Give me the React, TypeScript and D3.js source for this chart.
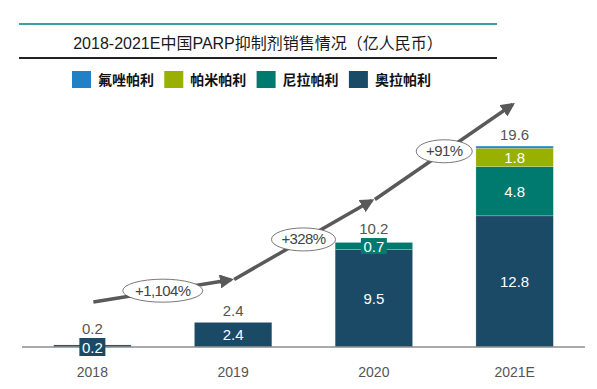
import React from "react";
import * as d3 from "d3";

// data
const categories = ["2018", "2019", "2020", "2021E"];
const olaparib = [0.2, 2.4, 9.5, 12.8]; // 奥拉帕利
const niraparib = [0, 0, 0.7, 4.8]; // 尼拉帕利
const pamiparib = [0, 0, 0, 1.8]; // 帕米帕利
const fluzoparib = [0, 0, 0, 0.2]; // 氟唑帕利
const totals = [0.2, 2.4, 10.2, 19.6];
const growth = ["+1,104%", "+328%", "+91%"];

const seriesNames = ["奥拉帕利", "尼拉帕利", "帕米帕利", "氟唑帕利"];
const seriesValues = [olaparib, niraparib, pamiparib, fluzoparib];
const legendOrder = ["氟唑帕利", "帕米帕利", "尼拉帕利", "奥拉帕利"];
const colors: Record<string, string> = {
  "奥拉帕利": "#1b4a66",
  "尼拉帕利": "#007a6e",
  "帕米帕利": "#99b000",
  "氟唑帕利": "#2180c6",
};

const W = 597;
const H = 389;
const numFont = "'Liberation Sans', Arial, sans-serif";
const cjkFont = "'Liberation Sans', 'Noto Sans CJK SC', sans-serif";

const App = () => {
  const x = d3.scaleBand<string>()
    .domain(categories)
    .range([22, 585])
    .paddingInner(0.45)
    .paddingOuter(0.225);
  const y = d3.scaleLinear().domain([0, 20]).range([347, 142]);
  const cx = (c: string) => (x(c) as number) + x.bandwidth() / 2;

  const rows = categories.map((c, i) => {
    const r: any = { cat: c };
    seriesNames.forEach((s, k) => (r[s] = seriesValues[k][i]));
    return r;
  });
  const stacked = d3.stack<any>().keys(seriesNames)(rows);

  // trend arrow sits a fixed distance above each total
  const arrowPts = categories.map((c, i) => [cx(c), y(totals[i]) - 43] as [number, number]);

  return (
    <svg width={W} height={H} style={{ position: "absolute", left: 0, top: 0 }}>
      <rect width={W} height={H} fill="#fff" />
      <defs>
        <marker id="ah" viewBox="0 0 10 10" refX="8" refY="5" markerWidth="4" markerHeight="4" orient="auto">
          <path d="M0,0 L10,5 L0,10 z" fill="#595959" />
        </marker>
      </defs>
      {/* header */}
      <line x1={19} x2={497} y1={24} y2={24} stroke="#3a9fa0" strokeWidth={2} />
      <text x={258} y={49} textAnchor="middle" fontSize={16} fill="#1a1a1a" fontFamily={cjkFont}>
        2018-2021E中国PARP抑制剂销售情况（亿人民币）
      </text>
      <line x1={19} x2={497} y1={58} y2={58} stroke="#222" strokeWidth={2} />

      {/* legend */}
      {legendOrder.map((s, i) => {
        const lx = 72 + i * 92.3;
        return (
          <g key={s}>
            <rect x={lx} y={71} width={19} height={17} fill={colors[s]} />
            <text x={lx + 26} y={85} fontSize={14} fontWeight="bold" fill="#111" fontFamily="'Noto Sans CJK SC', sans-serif">
              {s}
            </text>
          </g>
        );
      })}

      {/* bars */}
      {stacked.map((layer) => (
        <g key={layer.key}>
          {layer.map((d, i) =>
            d[1] - d[0] > 0 ? (
              <rect
                key={i}
                x={x(categories[i])}
                y={y(d[1])}
                width={x.bandwidth()}
                height={Math.max(y(d[0]) - y(d[1]), 1.5)}
                fill={colors[layer.key]}
                stroke="#ffffff"
                strokeOpacity={0.35}
                strokeWidth={0.6}
              />
            ) : null
          )}
        </g>
      ))}

      {/* axis */}
      <line x1={22} x2={585} y1={y(0)} y2={y(0)} stroke="#8c8c8c" strokeWidth={1.5} />
      {categories.map((c) => (
        <text key={c} x={cx(c)} y={377} textAnchor="middle" fontSize={14} fill="#555" fontFamily={numFont}>
          {c}
        </text>
      ))}

      {/* segment labels */}
      {stacked.map((layer) =>
        layer.map((d, i) => {
          const v = d[1] - d[0];
          if (v <= 0.25) return null;
          const c = categories[i];
          const small = y(d[0]) - y(d[1]) < 16;
          const my = (y(d[0]) + y(d[1])) / 2;
          return (
            <g key={layer.key + i}>
              {small && <rect x={cx(c) - 13} y={my - 8} width={26} height={16} fill={colors[layer.key]} />}
              <text x={cx(c)} y={my + 5.5} textAnchor="middle" fontSize={15} fill="#fff" fontFamily={numFont}>
                {v.toFixed(1)}
              </text>
            </g>
          );
        })
      )}
      {/* tiny 2018 label box on the baseline */}
      {olaparib.map((v, i) =>
        y(0) - y(v) < 4 ? (
          <g key={"tiny" + i}>
            <rect x={cx(categories[i]) - 13} y={y(0) - 9} width={26} height={18} fill={colors["奥拉帕利"]} />
            <text x={cx(categories[i])} y={y(0) + 5.5} textAnchor="middle" fontSize={15} fill="#fff" fontFamily={numFont}>
              {v.toFixed(1)}
            </text>
          </g>
        ) : null
      )}

      {/* totals */}
      {totals.map((t, i) => (
        <text
          key={"t" + i}
          x={cx(categories[i])}
          y={y(t) - (i === 0 ? 11 : i === 2 ? 8 : 6)}
          textAnchor="middle"
          fontSize={15}
          fill="#555"
          fontFamily={numFont}
        >
          {t.toFixed(1)}
        </text>
      ))}

      {/* growth arrows */}
      {growth.map((g, i) => {
        const [x0, y0] = arrowPts[i];
        const [x1, y1] = arrowPts[i + 1];
        const mx = (x0 + x1) / 2;
        const my = (y0 + y1) / 2;
        const rx = 12 + g.length * 4;
        return (
          <g key={g}>
            <line
              x1={x0 + 1}
              y1={y0}
              x2={x1 - 2}
              y2={y1 + (y0 - y1) * (2 / (x1 - x0))}
              stroke="#595959"
              strokeWidth={3.5}
              markerEnd="url(#ah)"
            />
            <ellipse cx={mx} cy={my} rx={rx} ry={11.5} fill="#fff" stroke="#555" strokeWidth={0.8} />
            <text x={mx} y={my + 5} textAnchor="middle" fontSize={15} fill="#444" fontFamily={numFont} letterSpacing={-0.6}>
              {g}
            </text>
          </g>
        );
      })}
    </svg>
  );
};

export default App;
